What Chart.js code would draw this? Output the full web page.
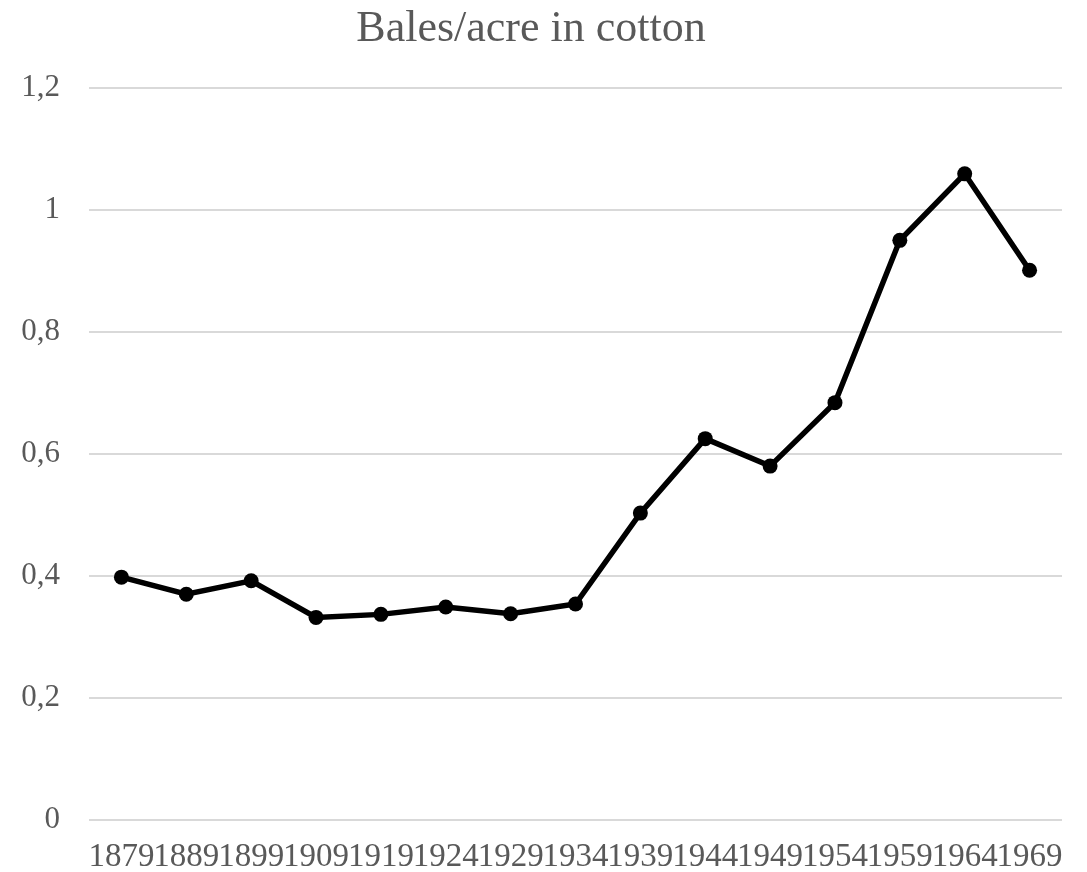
<!DOCTYPE html>
<html>
<head>
<meta charset="utf-8">
<script src="https://cdn.jsdelivr.net/npm/chart.js@4"></script>
<style>
  body { margin: 0; background: white; }
  #wrap { width: 1087px; height: 872px; }
</style>
</head>
<body>
<div id="wrap"><canvas id="grafico"></canvas></div>
<script>
// anos (eixo X)
const anos = ['1879', '1889', '1899', '1909', '1919', '1924', '1929', '1934',
    '1939', '1944', '1949', '1954', '1959', '1964', '1969'];

// fardos por acre
const fardosPorAcre = [0.398, 0.370, 0.392, 0.332, 0.337, 0.349, 0.338, 0.354,
    0.503, 0.625, 0.580, 0.684, 0.950, 1.059, 0.901];

const corTexto = '#595959';
const fonte = "'Liberation Serif', 'Times New Roman', serif";

const data = {
    labels: anos,
    datasets: [{
        label: 'Bales/acre in cotton',
        data: fardosPorAcre,
        borderColor: '#000000',
        backgroundColor: '#000000',
        borderWidth: 5.5,
        pointRadius: 7.5,
        pointBorderWidth: 0,
        tension: 0
    }]
};

const config = {
    type: 'line',
    data: data,
    options: {
        responsive: true,
        maintainAspectRatio: false,
        animation: false,
        layout: {
            padding: { left: 0, right: 25, top: 0, bottom: 0 }
        },
        plugins: {
            legend: { display: false },
            tooltip: { enabled: false },
            title: {
                display: true,
                text: 'Bales/acre in cotton',
                color: corTexto,
                font: { family: fonte, size: 44, weight: 'normal' },
                padding: { top: 3, bottom: 32 }
            }
        },
        scales: {
            x: {
                offset: true,
                grid: { display: false, drawTicks: false },
                border: { display: false },
                ticks: {
                    color: corTexto,
                    font: { family: fonte, size: 33 },
                    autoSkip: false,
                    maxRotation: 0,
                    minRotation: 0,
                    padding: 18
                },
                afterFit: function (eixo) {
                    eixo.height = 52;
                }
            },
            y: {
                min: 0,
                max: 1.2,
                grid: { color: '#d9d9d9', lineWidth: 2, drawTicks: false },
                border: { display: false },
                ticks: {
                    stepSize: 0.2,
                    color: corTexto,
                    font: { family: fonte, size: 31 },
                    padding: 29,
                    callback: function (valor) {
                        return String(Math.round(valor * 10) / 10).replace('.', ',');
                    }
                },
                afterFit: function (eixo) {
                    eixo.width = 89;
                }
            }
        }
    }
};

const grafico = new Chart(document.getElementById('grafico').getContext('2d'), config);
</script>
</body>
</html>
